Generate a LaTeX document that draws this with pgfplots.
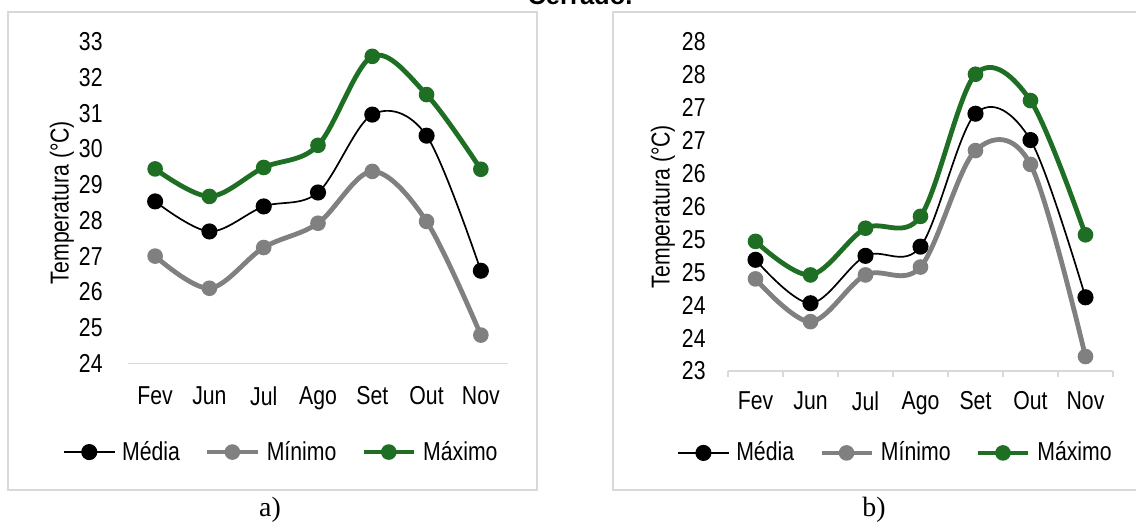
\documentclass[border=0pt]{standalone}
\usepackage{fontspec}
\setmainfont{Liberation Sans}[FakeStretch=0.82]
\newfontfamily\titlefont{Liberation Sans}
\newfontfamily\capfont{Liberation Serif}
\usepackage{pgfplots}
\pgfplotsset{compat=1.18}

\definecolor{maxgreen}{RGB}{30,110,36}
\definecolor{mingray}{RGB}{128,128,128}
\definecolor{framegray}{RGB}{217,217,217}

\newcommand{\lblfont}{\fontsize{13}{15}\selectfont}

\pgfplotsset{
  panel/.style={
    scale only axis, clip=false,
    xmin=-0.5, xmax=6.5,
    xtick={0,...,6}, xticklabels={Fev,Jun,Jul,Ago,Set,Out,Nov},
    axis x line*=bottom, axis y line*=left,
    x axis line style={draw=framegray, line width=0.6bp, -},
    y axis line style={draw=none},
    major tick length=0pt,
    tick label style={font=\lblfont, inner sep=0pt},
    xticklabel style={anchor=north},
    yticklabel style={anchor=east},
    ylabel={Temperatura (°C)},
    ylabel style={font=\lblfont, anchor=center},
    legend columns=3,
    legend cell align=left,
    legend style={draw=none, fill=none, inner sep=0pt, font=\lblfont,
      nodes={inner sep=0pt},
      /tikz/every odd column/.append style={column sep=3.5bp},
      /tikz/every even column/.append style={column sep=12.5bp}},
    legend image code/.code={\draw[mark repeat=2,mark phase=2]
      plot coordinates {(0bp,0bp) (12.5bp,0bp) (25bp,0bp)};},
  },
  media/.style={black, line width=0.85bp, smooth, tension=0.55,
    mark=*, mark size=3.6bp, mark options={solid, fill=black}},
  minimo/.style={mingray, line width=2.4bp, smooth, tension=0.55,
    mark=*, mark size=3.4bp, mark options={solid, fill=mingray, draw=mingray, line width=1bp}},
  maximo/.style={maxgreen, line width=2.4bp, smooth, tension=0.55,
    mark=*, mark size=3.4bp, mark options={solid, fill=maxgreen, draw=maxgreen, line width=1bp}},
}

\begin{document}
\begin{tikzpicture}
\path[use as bounding box] (0bp,0bp) rectangle (568bp,-262.5bp);
\begin{scope}
\clip (0bp,0bp) rectangle (568bp,-262.5bp);

% frames of the two panels
\draw[framegray, line width=0.75bp] (4bp,-6bp) rectangle (268.5bp,-245bp);
\draw[framegray, line width=0.75bp] (306.5bp,-6bp) rectangle (570bp,-245bp);

% heading above the panels
\node[anchor=base, font=\titlefont\fontsize{12.8}{15}\selectfont\bfseries] at (290bp,-2.2bp) {Cerrado.};

% panel a
\begin{axis}[panel,
  at={(64bp,-181.65bp)}, anchor=south west,
  width=190bp, height=160.8bp,
  ymin=24, ymax=33,
  ytick={24,...,33},
  yticklabels={24,25,26,27,28,29,30,31,32,33},
  yticklabel style={xshift=-12.5bp},
  xticklabel style={yshift=-11.5bp},
  ylabel style={at={(axis description cs:-0.174,0.5)}},
  legend style={at={(axis description cs:-0.171,-0.276)}, anchor=west},
]
\addplot[media] coordinates {(0,28.53) (1,27.69) (2,28.39) (3,28.78) (4,30.96) (5,30.37) (6,26.59)};
\addlegendentry{Média}
\addplot[minimo] coordinates {(0,27.00) (1,26.10) (2,27.24) (3,27.92) (4,29.37) (5,27.97) (6,24.79)};
\addlegendentry{Mínimo}
\addplot[maximo] coordinates {(0,29.44) (1,28.67) (2,29.48) (3,30.10) (4,32.59) (5,31.52) (6,29.43)};
\addlegendentry{Máximo}
\end{axis}

% panel b
\begin{axis}[panel,
  at={(364bp,-185.5bp)}, anchor=south west,
  width=192.5bp, height=164.5bp,
  ymin=23, ymax=28,
  ytick={23,23.5,...,28},
  yticklabels={23,24,24,25,25,26,26,27,27,28,28},
  yticklabel style={xshift=-11bp},
  xticklabel style={yshift=-10bp},
  xtick align=outside,
  minor xtick={-0.5,0.5,...,6.5},
  minor tick length=3bp,
  minor x tick style={draw=framegray, line width=0.6bp},
  ylabel style={at={(axis description cs:-0.169,0.5)}},
  legend style={at={(axis description cs:-0.132,-0.249)}, anchor=west},
]
\addplot[media] coordinates {(0,24.69) (1,24.03) (2,24.75) (3,24.89) (4,26.91) (5,26.51) (6,24.12)};
\addlegendentry{Média}
\addplot[minimo] coordinates {(0,24.40) (1,23.75) (2,24.46) (3,24.58) (4,26.35) (5,26.14) (6,23.22)};
\addlegendentry{Mínimo}
\addplot[maximo] coordinates {(0,24.97) (1,24.46) (2,25.17) (3,25.35) (4,27.51) (5,27.11) (6,25.07)};
\addlegendentry{Máximo}
\end{axis}

% panel captions
\node[font=\capfont\fontsize{14}{16}\selectfont] at (135bp,-255bp) {a)};
\node[font=\capfont\fontsize{14}{16}\selectfont] at (437bp,-255bp) {b)};
\end{scope}
\end{tikzpicture}
\end{document}
